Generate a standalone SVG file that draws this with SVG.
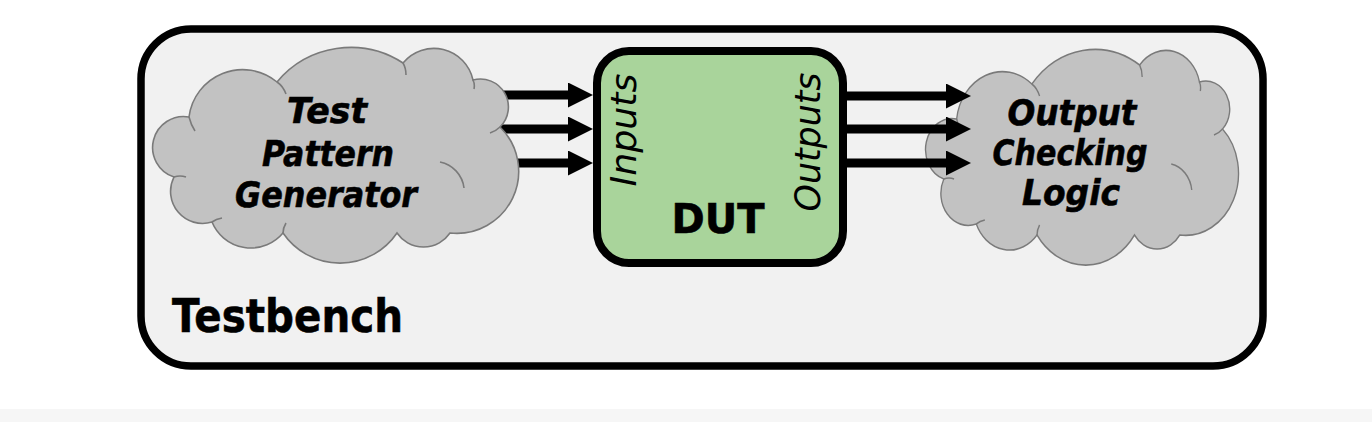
<svg xmlns="http://www.w3.org/2000/svg" xmlns:xlink="http://www.w3.org/1999/xlink" width="1372" height="422" viewBox="0 0 1372 422">
  <style>
    .frame { fill: #f1f1f1; stroke: #000; stroke-width: 7.5; }
    .dut { fill: #a9d49b; stroke: #000; stroke-width: 8; }
    .cloud { fill: #c2c2c2; stroke: #7a7a7a; stroke-width: 1.6; }
    .cloudline { fill: none; stroke: #7a7a7a; stroke-width: 1.6; }
    .ctext { font-family: "DejaVu Sans", Verdana, sans-serif; font-weight: bold; font-style: italic; font-size: 35px; fill: #000; stroke: #000; stroke-width: 0.6; text-anchor: middle; }
    .port { font-family: "DejaVu Sans", Verdana, sans-serif; font-style: italic; font-size: 35px; fill: #000; text-anchor: middle; }
    .label { font-family: "DejaVu Sans", Verdana, sans-serif; font-weight: bold; fill: #000; stroke: #000; stroke-width: 0.6; }
    .wire { stroke: #000; stroke-width: 9; fill: none; marker-end: url(#head); }
  </style>
  <defs>
    <marker id="head" markerUnits="userSpaceOnUse" markerWidth="26" markerHeight="26" refX="10" refY="12.5" orient="auto">
      <path d="M0,0 L25,12.5 L0,25 Z" fill="#000"/>
    </marker>
    <path id="cloudShape" d="M37,69 A31,31 0 0 0 22,129 A32,32 0 0 0 60,174 A42,42 0 0 0 131,185 A69,69 0 0 0 245,185 A32,32 0 0 0 298,185 A62,62 0 0 0 348,79 A28,28 0 0 0 321,32 A40,40 0 0 0 251,15 A96,96 0 0 0 125,34 A54,54 0 0 0 37,69 Z"/>
    <path id="cloudInner" d="M37,69 q2,8 6,14 M125,34 q6,4 9,12 M251,15 q3,5 3,12 M321,32 q2,4 1,9 M348,79 q-4,4 -10,6 M288,114 a30,30 0 0 1 24,26 M131,185 q0,-5 3,-10 M60,174 q4,-3 10,-4 M22,129 q6,-2 12,0"/>
  </defs>

  <rect x="0" y="0" width="1372" height="422" fill="#ffffff"/>
  <rect x="0" y="409" width="1372" height="13" fill="#f6f6f6"/>

  <g id="testbench">
    <rect class="frame" x="141" y="29" width="1122" height="337" rx="50" ry="50"/>
    <text class="label" x="172" y="332" font-size="47" textLength="231" lengthAdjust="spacingAndGlyphs">Testbench</text>
  </g>

  <g id="checker">
    <g transform="translate(925,50) scale(0.855,1)">
      <use xlink:href="#cloudShape" class="cloud" vector-effect="non-scaling-stroke"/>
      <use xlink:href="#cloudInner" class="cloudline" vector-effect="non-scaling-stroke"/>
    </g>
    <text class="ctext" x="1072" y="125" textLength="129" lengthAdjust="spacingAndGlyphs">Output</text>
    <text class="ctext" x="1070" y="165" textLength="155" lengthAdjust="spacingAndGlyphs">Checking</text>
    <text class="ctext" x="1071" y="205" textLength="98" lengthAdjust="spacingAndGlyphs">Logic</text>
  </g>

  <g id="connectors">
    <line class="wire" x1="480" y1="95" x2="578" y2="95"/>
    <line class="wire" x1="480" y1="129" x2="578" y2="129"/>
    <line class="wire" x1="480" y1="163" x2="578" y2="163"/>
    <line class="wire" x1="843" y1="96" x2="956" y2="96"/>
    <line class="wire" x1="843" y1="129" x2="956" y2="129"/>
    <line class="wire" x1="843" y1="163" x2="956" y2="163"/>
  </g>

  <g id="generator">
    <g transform="translate(152,48)">
      <use xlink:href="#cloudShape" class="cloud"/>
      <use xlink:href="#cloudInner" class="cloudline"/>
    </g>
    <text class="ctext" x="327" y="123" textLength="80" lengthAdjust="spacingAndGlyphs">Test</text>
    <text class="ctext" x="328" y="166" textLength="132" lengthAdjust="spacingAndGlyphs">Pattern</text>
    <text class="ctext" x="326" y="207" textLength="182" lengthAdjust="spacingAndGlyphs">Generator</text>
  </g>

  <g id="dut">
    <rect class="dut" x="597" y="51" width="246" height="212" rx="32" ry="32"/>
    <text class="port" transform="translate(636,130) rotate(-90)" x="0" y="0" textLength="113" lengthAdjust="spacingAndGlyphs">Inputs</text>
    <text class="port" transform="translate(820,142) rotate(-90)" x="0" y="0" textLength="139" lengthAdjust="spacingAndGlyphs">Outputs</text>
    <text class="label" x="718" y="233" font-size="41" text-anchor="middle" textLength="93" lengthAdjust="spacingAndGlyphs">DUT</text>
  </g>
</svg>
